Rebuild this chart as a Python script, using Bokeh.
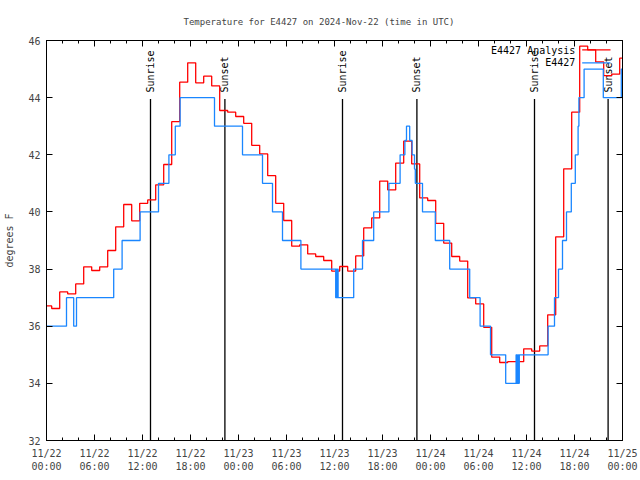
import math
from bokeh.plotting import figure
from bokeh.models import FixedTicker, LinearAxis, Range1d
from bokeh.embed import file_html
from bokeh.resources import INLINE
from bokeh.core.properties import value

# Hours since 2024-11-22 00:00 UTC
analysis_hours = [0.0] + [k + 0.65 for k in range(72)]
analysis_temps = [
    36.71, 36.62, 37.20, 37.13, 37.48, 38.08, 37.95, 38.08, 38.65, 39.48,
    40.26, 39.69, 40.30, 40.42, 40.95, 41.66, 43.16, 44.54, 45.22, 44.52,
    44.75, 44.41, 43.55, 43.49, 43.34, 43.10, 42.33, 42.03, 41.27, 40.30,
    39.70, 38.80, 38.85, 38.53, 38.44, 38.30, 37.93, 38.09, 37.93, 38.46,
    39.44, 39.79, 41.08, 40.77, 41.71, 42.48, 41.68, 40.49, 40.40, 39.60,
    38.91, 38.44, 38.28, 36.99, 36.78, 35.96, 34.92, 34.73, 34.76, 34.76,
    35.21, 35.13, 35.31, 36.40, 39.13, 41.51, 43.49, 45.80, 45.67, 45.25,
    44.77, 44.82, 45.38,
]

obs_hours = [
    0.0, 2.5, 3.4, 3.75, 8.4, 9.45, 11.7, 14.0, 15.3, 16.1, 16.7, 21.0,
    24.5, 27.0, 28.25, 29.5, 31.8, 36.15, 36.25, 36.3, 36.4, 36.45, 38.4,
    39.5, 40.9, 42.8, 44.2, 44.8, 45.0, 45.4, 45.7, 46.0, 46.1, 47.0, 48.6,
    50.4, 52.9, 54.2, 55.5, 57.4, 58.7, 58.8, 58.9, 59.0, 59.1, 62.7, 63.5,
    64.0, 64.5, 65.0, 65.6, 66.1, 66.45, 66.55, 67.2, 69.6, 71.85,
]
obs_temps = [
    36, 37, 36, 37, 38, 39, 40, 41, 42, 43, 44, 43,
    42, 41, 40, 39, 38, 37, 38, 37, 38, 37, 38,
    39, 40, 41, 42, 42.5, 43, 42.5, 42, 41.5, 41, 40, 39,
    38, 37, 36, 35, 34, 35, 34, 35, 34, 35, 36, 37,
    38, 39, 40, 41, 42, 43, 44, 45, 44, 45,
]

sun_hours = [13.0, 22.3, 37.0, 46.3, 61.0, 70.2]
sun_labels = ["Sunrise", "Sunset", "Sunrise", "Sunset", "Sunrise", "Sunset"]

x_ticks = [0, 6, 12, 18, 24, 30, 36, 42, 48, 54, 60, 66, 72]
x_tick_labels = [
    "11/22\n00:00", "11/22\n06:00", "11/22\n12:00", "11/22\n18:00",
    "11/23\n00:00", "11/23\n06:00", "11/23\n12:00", "11/23\n18:00",
    "11/24\n00:00", "11/24\n06:00", "11/24\n12:00", "11/24\n18:00",
    "11/25\n00:00",
]
x_minor = list(range(0, 73, 2))
y_ticks = [32, 34, 36, 38, 40, 42, 44, 46]

legend_names = ["E4427 Analysis", "E4427"]

FONT = "DejaVu Sans Mono"
RED = "#ff0000"
BLUE = "#1a86ff"

p = figure(
    width=640, height=480, output_backend="svg", toolbar_location=None,
    x_range=Range1d(0, 72), y_range=Range1d(32, 46),
    min_border_left=46, min_border_right=18, min_border_top=40, min_border_bottom=40,
    title="Temperature for E4427 on 2024-Nov-22 (time in UTC)",
)
p.title.align = "left"
p.title.text_font = FONT
p.title.text_font_size = "9px"
p.title.text_font_style = "normal"
p.title.standoff = 27
p.title.offset = 137

p.grid.visible = False
p.outline_line_color = "black"
p.outline_line_width = 1
p.background_fill_color = "white"
p.border_fill_color = "white"

xt = FixedTicker(ticks=x_ticks, minor_ticks=x_minor)
yt = FixedTicker(ticks=y_ticks, minor_ticks=[])

for ax in p.xaxis:
    ax.ticker = xt
    ax.major_label_overrides = {t: l for t, l in zip(x_ticks, x_tick_labels)}
    ax.major_label_standoff = 7
for ax in p.yaxis:
    ax.ticker = yt
    ax.axis_label = "degrees F"
    ax.axis_label_text_font_style = "normal"
    ax.axis_label_text_font = FONT
    ax.axis_label_text_font_size = "10px"
    ax.axis_label_standoff = 10
    ax.major_label_standoff = 6

for ax in list(p.xaxis) + list(p.yaxis):
    ax.major_label_text_font = FONT
    ax.major_label_text_font_size = "10px"
    ax.major_tick_in = 6
    ax.major_tick_out = 0
    ax.minor_tick_in = 3
    ax.minor_tick_out = 0
    ax.axis_line_color = "black"

top = LinearAxis(ticker=xt, major_label_text_color=None, major_label_text_font_size="1px",
                 major_label_standoff=0, major_tick_in=6, major_tick_out=0,
                 minor_tick_in=3, minor_tick_out=0)
right = LinearAxis(ticker=yt, major_label_text_color=None, major_label_text_font_size="1px",
                   major_label_standoff=0, major_tick_in=6, major_tick_out=0,
                   minor_tick_in=0, minor_tick_out=0)
p.add_layout(top, "above")
p.add_layout(right, "right")

# Sunrise / sunset markers
p.segment(x0=sun_hours, y0=[32] * len(sun_hours), x1=sun_hours,
          y1=[43.95] * len(sun_hours), line_color="black", line_width=1.3)
p.text(x=sun_hours, y=[44.18] * len(sun_hours), text=sun_labels, angle=math.pi / 2,
       text_align="left", text_baseline="middle", text_font=value(FONT),
       text_font_size="10px", text_color="black")

# Series
ax_h = analysis_hours + [72]
ax_t = analysis_temps + [analysis_temps[-1]]
ob_h = obs_hours + [72]
ob_t = obs_temps + [obs_temps[-1]]
p.step(ax_h, ax_t, mode="after", line_color=RED, line_width=1.3)
p.step(ob_h, ob_t, mode="after", line_color=BLUE, line_width=1.3)

# Key (gnuplot style: text then sample)
p.text(x=[66.1, 66.1], y=[45.65, 45.22], text=legend_names, text_align="right",
       text_baseline="middle", text_font=value(FONT), text_font_size="10px",
       text_color="black")
p.segment(x0=[66.96], y0=[45.67], x1=[70.5], y1=[45.67], line_color=RED, line_width=1.3)
p.segment(x0=[66.96], y0=[45.22], x1=[70.5], y1=[45.22], line_color=BLUE, line_width=1.3)

open("out.html", "w").write(file_html(p, INLINE))
